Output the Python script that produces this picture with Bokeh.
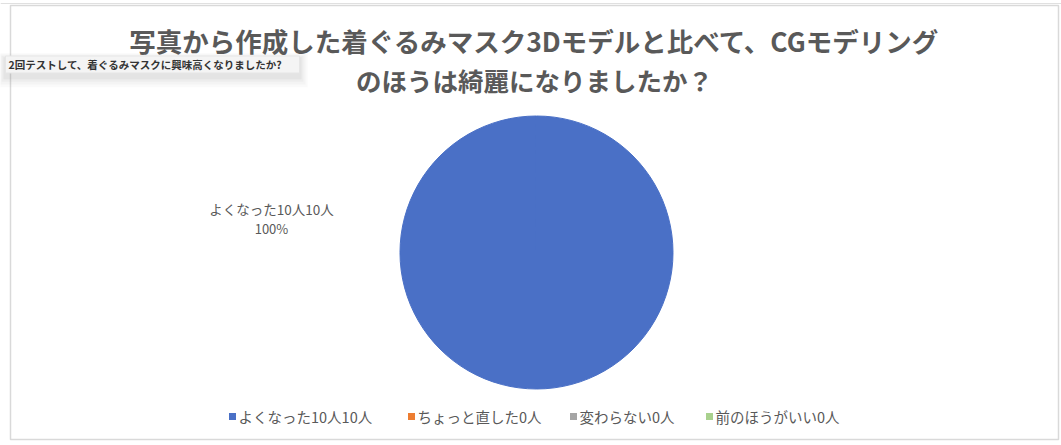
import numpy as np
from bokeh.plotting import figure
from bokeh.models import ColumnDataSource, Range1d
from bokeh.core.properties import value
from bokeh.embed import file_html
from bokeh.resources import INLINE

title_lines = ["写真から作成した着ぐるみマスク3Dモデルと比べて、CGモデリング", "のほうは綺麗になりましたか？"]
tooltip_text = "2回テストして、着ぐるみマスクに興味高くなりましたか?"
categories = ["よくなった10人10人", "ちょっと直した0人", "変わらない0人", "前のほうがいい0人"]
values = [10, 0, 0, 0]
colors = ["#4A70C6", "#ED7D31", "#A5A5A5", "#A9D18E"]

W, H = 1061, 445
FONT = "Noto Sans CJK JP"

p = figure(width=W, height=H, output_backend="svg", toolbar_location=None,
           x_range=Range1d(0, W), y_range=Range1d(0, H), min_border=0)
p.axis.visible = False
p.grid.visible = False
p.outline_line_color = None
p.background_fill_color = "white"
p.border_fill_color = "white"

def Y(y):
    return H - y

# chart frame
p.rect(x=[534], y=[Y(222)], width=[1048], height=[434], fill_color=None, line_color="#D9D9D9", line_width=1.5)
p.line(x=[0, W], y=[Y(3), Y(3)], line_color="#E0E0E0", line_width=1)

# title
sizes = ["26.5px", "25.5px"]
for i, t in enumerate(title_lines):
    p.text(x=[534], y=[Y(40 + i * 39)], text=[t], text_font=value(FONT), text_font_style="bold",
           text_font_size=sizes[i], text_color="#595959", text_align="center", text_baseline="middle")

# tooltip with shadow
for k, a in enumerate([0.04, 0.05, 0.06, 0.08]):
    d = 8 - 2 * k
    p.rect(x=[152], y=[Y(67 + d / 3)], width=[294 + d * 2], height=[18 + d * 2], fill_color="#808080",
           fill_alpha=a, line_color=None)
p.rect(x=[152], y=[Y(64)], width=[294], height=[17], fill_color="#F4F4F4", line_color="#E6E6E6")
p.text(x=[8], y=[Y(64)], text=[tooltip_text], text_font=value(FONT), text_font_size="10.5px",
       text_font_style="bold", text_color="#333333", text_baseline="middle")

# pie (clockwise from 12 o'clock, zero slices skipped)
vals = np.array(values, dtype=float)
frac = vals / vals.sum()
cum = np.concatenate([[0], np.cumsum(frac)])
start = np.pi / 2 - cum[:-1] * 2 * np.pi
span = np.minimum(frac * 2 * np.pi, 2 * np.pi - 1e-3)  # avoid degenerate full-circle arc
end = start - span
keep = vals > 0
src = ColumnDataSource(dict(start=start[keep], end=end[keep],
                            color=[c for c, k in zip(colors, keep) if k],
                            cat=[c for c, k in zip(categories, keep) if k]))
p.wedge(x=536, y=Y(252), radius=136.5, radius_units="screen", start_angle="start", end_angle="end",
        direction="clock", fill_color="color", line_color="color", line_width=1, source=src)

# data label
top = int(np.argmax(vals))
p.text(x=[271], y=[Y(208)], text=[categories[top]], text_font=value(FONT), text_font_size="13.5px",
       text_color="#595959", text_align="center", text_baseline="middle")
p.text(x=[271], y=[Y(228)], text=[f"{frac[top]*100:.0f}%"], text_font=value(FONT), text_font_size="13px",
       text_color="#595959", text_align="center", text_baseline="middle")

# legend
leg_x = [232, 411, 573, 709]
p.rect(x=leg_x, y=[Y(416)] * 4, width=[7] * 4, height=[7] * 4, fill_color=colors, line_color=None)
p.text(x=[x + 6 for x in leg_x], y=[Y(416)] * 4, text=categories, text_font=value(FONT),
       text_font_size="14.5px", text_color="#595959", text_baseline="middle")

open("out.html", "w").write(file_html(p, INLINE))
